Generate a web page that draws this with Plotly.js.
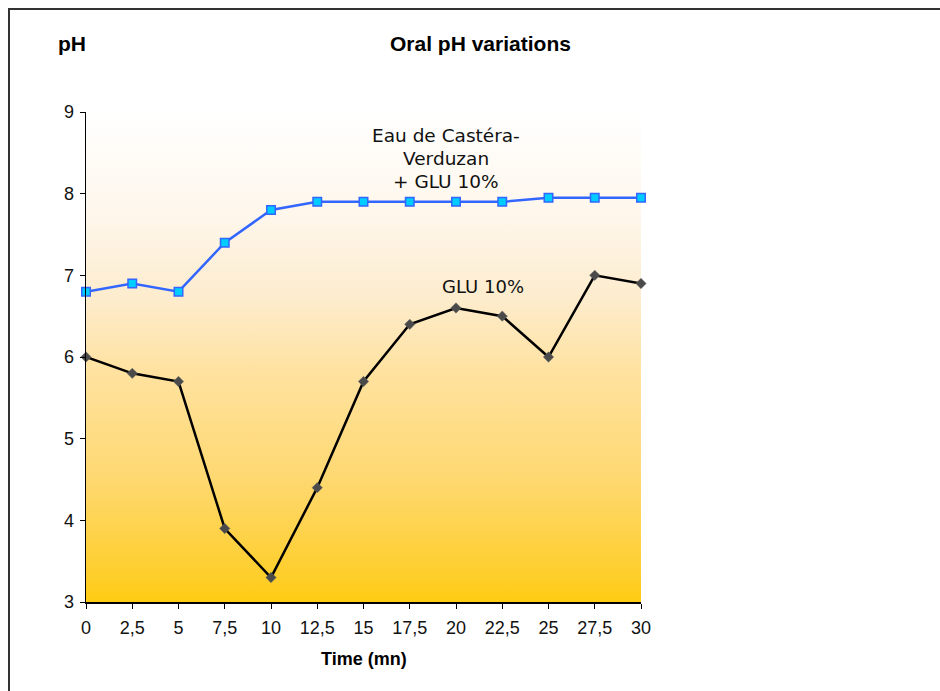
<!DOCTYPE html>
<html>
<head>
<meta charset="utf-8">
<script src="https://cdn.plot.ly/plotly-3.0.1.min.js"></script>
<style>
  html, body { margin: 0; padding: 0; background: #ffffff; }
  #chart { width: 940px; height: 691px; }
</style>
</head>
<body>
<div id="chart"></div>
<script>
// ---- data ----
const timeMn = [0, 2.5, 5, 7.5, 10, 12.5, 15, 17.5, 20, 22.5, 25, 27.5, 30];
const phCasteraGlu = [6.8, 6.9, 6.8, 7.4, 7.8, 7.9, 7.9, 7.9, 7.9, 7.9, 7.95, 7.95, 7.95];
const phGlu = [6.0, 5.8, 5.7, 3.9, 3.3, 4.4, 5.7, 6.4, 6.6, 6.5, 6.0, 7.0, 6.9];
const xTicks = [0, 2.5, 5, 7.5, 10, 12.5, 15, 17.5, 20, 22.5, 25, 27.5, 30];
const xTickText = ["0", "2,5", "5", "7,5", "10", "12,5", "15", "17,5", "20", "22,5", "25", "27,5", "30"];
const yTicks = [3, 4, 5, 6, 7, 8, 9];
const xRange = [0, 30];
const yRange = [3, 9];
const labelCasteraLines = ["Eau de Castéra-", "Verduzan", "+ GLU 10%"];
const labelGlu = "GLU 10%";

const W = 940, H = 691;
const L = 86, R = 641, T = 112, B = 602;
const px = v => (v - L) / (R - L);
const py = v => (B - v) / (B - T);

const background = {
  x: [xRange[0], xRange[1], xRange[1], xRange[0], xRange[0]],
  y: [yRange[0], yRange[0], yRange[1], yRange[1], yRange[0]],
  type: 'scatter', mode: 'none', fill: 'toself',
  fillgradient: {
    type: 'vertical', start: yRange[0], stop: yRange[1],
    colorscale: [
      [0, '#FFCC11'], [0.05, '#FECE2A'], [0.25, '#FED870'],
      [0.47, '#FFE2A0'], [0.62, '#FDECCD'], [0.78, '#FEF6EA'], [1, '#FFFFFF']
    ]
  },
  hoverinfo: 'skip', showlegend: false
};

const traceCastera = {
  x: timeMn, y: phCasteraGlu, type: 'scatter', mode: 'lines+markers',
  line: { color: '#3366FF', width: 2.5 },
  marker: { symbol: 'square', size: 8.5, color: '#00CCFF', line: { color: '#3366FF', width: 1.5 } },
  cliponaxis: false, showlegend: false, hoverinfo: 'skip'
};

const traceGlu = {
  x: timeMn, y: phGlu, type: 'scatter', mode: 'lines+markers',
  line: { color: '#000000', width: 2.5 },
  marker: { symbol: 'diamond', size: 8, color: '#4a4a4a', line: { color: '#666666', width: 0.5 } },
  cliponaxis: false, showlegend: false, hoverinfo: 'skip'
};

const tickFont = { family: 'Liberation Sans, Arial, sans-serif', size: 18, color: '#111111' };
const annFont = { family: 'DejaVu Sans, Verdana, sans-serif', size: 18.5, color: '#111' };

const annotations = [
  { text: '<b>Oral pH variations</b>', xref: 'paper', yref: 'paper', x: px(481), y: py(43),
    showarrow: false, xanchor: 'center', yanchor: 'middle',
    font: { family: 'Liberation Sans, Arial, sans-serif', size: 21, color: '#000' } },
  { text: '<b>pH</b>', xref: 'paper', yref: 'paper', x: px(72), y: py(43),
    showarrow: false, xanchor: 'center', yanchor: 'middle',
    font: { family: 'Liberation Sans, Arial, sans-serif', size: 21, color: '#000' } },
  { text: '<b>Time (mn)</b>', xref: 'paper', yref: 'paper', x: px(364), y: py(659),
    showarrow: false, xanchor: 'center', yanchor: 'middle',
    font: { family: 'Liberation Sans, Arial, sans-serif', size: 18, color: '#000' } },
  { text: labelGlu, xref: 'paper', yref: 'paper', x: px(483), y: py(286),
    showarrow: false, xanchor: 'center', yanchor: 'middle',
    font: { family: 'DejaVu Sans, Verdana, sans-serif', size: 18, color: '#111' } }
];
const castLineY = [135, 158, 181];
labelCasteraLines.forEach((t, i) => {
  annotations.push({ text: t, xref: 'paper', yref: 'paper', x: px(446), y: py(castLineY[i]),
    showarrow: false, xanchor: 'center', yanchor: 'middle', font: annFont });
});

const layout = {
  width: W, height: H,
  margin: { l: L, r: W - R, t: T, b: H - B, pad: 0 },
  paper_bgcolor: '#ffffff', plot_bgcolor: 'rgba(0,0,0,0)',
  showlegend: false,
  xaxis: {
    range: xRange, tickmode: 'array', tickvals: xTicks, ticktext: xTickText,
    showgrid: false, zeroline: false, showline: true, linecolor: '#000', linewidth: 1.5,
    ticks: 'outside', ticklen: 5, tickcolor: '#000', tickwidth: 1,
    ticklabelstandoff: 4,
    tickfont: tickFont, fixedrange: true
  },
  yaxis: {
    range: yRange, tickmode: 'array', tickvals: yTicks,
    showgrid: false, zeroline: false, showline: true, linecolor: '#000', linewidth: 1.5,
    ticks: 'outside', ticklen: 5, tickcolor: '#000', tickwidth: 1,
    ticklabelstandoff: 2,
    tickfont: tickFont, fixedrange: true
  },
  shapes: [{
    type: 'rect', xref: 'paper', yref: 'paper',
    x0: px(9), x1: px(960), y0: py(9), y1: py(720),
    line: { color: '#333333', width: 2 }, fillcolor: 'rgba(0,0,0,0)', layer: 'above'
  }],
  annotations: annotations
};

Plotly.newPlot('chart', [background, traceCastera, traceGlu], layout, { staticPlot: true, displayModeBar: false });
</script>
</body>
</html>
